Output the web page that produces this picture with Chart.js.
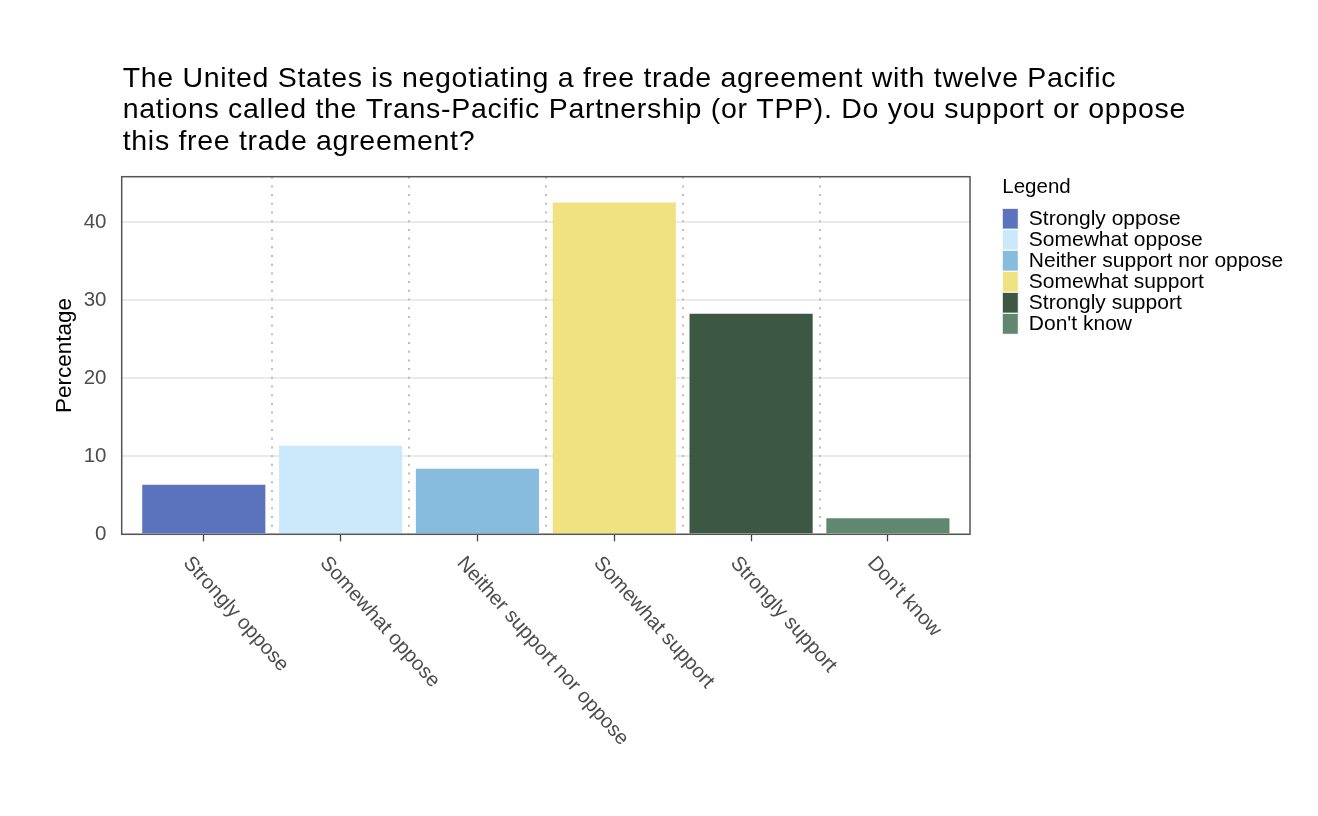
<!DOCTYPE html>
<html>
<head>
<meta charset="utf-8">
<script src="https://cdn.jsdelivr.net/npm/chart.js@4/dist/chart.umd.min.js"></script>
<style>
  html, body { margin: 0; padding: 0; background: #fff; }
  #wrap { width: 1318px; height: 816px; }
</style>
</head>
<body>
<div id="wrap"><canvas id="myChart" width="1318" height="816"></canvas></div>
<script>
const titleLines = [
  'The United States is negotiating a free trade agreement with twelve Pacific',
  'nations called the Trans-Pacific Partnership (or TPP). Do you support or oppose',
  'this free trade agreement?'
]
const categories = [
  'Strongly oppose',
  'Somewhat oppose',
  'Neither support nor oppose',
  'Somewhat support',
  'Strongly support',
  "Don't know"
]
const percentages = [6.34, 11.33, 8.39, 42.5, 28.26, 2.05]
const barColors = ['#5a73bc', '#cce8fb', '#88bcdf', '#f1e281', '#3c5742', '#618770']
const yTicks = [0, 10, 20, 30, 40]

const FONT = '"Liberation Sans", Arial, sans-serif'

// title, dotted separators, panel border, rotated category labels
const decorations = {
  id: 'decorations',
  beforeDatasetsDraw (chart) {
    const { ctx, chartArea } = chart
    const x = chart.scales.x
    ctx.save()
    ctx.strokeStyle = '#bdbdbd'
    ctx.lineWidth = 2
    ctx.setLineDash([2, 6.7])
    for (let i = 1; i < categories.length; i++) {
      const px = Math.round(x.getPixelForValue(i + 0.5))
      ctx.beginPath()
      ctx.moveTo(px, chartArea.top)
      ctx.lineTo(px, chartArea.bottom)
      ctx.stroke()
    }
    ctx.restore()
  },
  afterDatasetsDraw (chart) {
    const { ctx, chartArea } = chart
    const x = chart.scales.x
    ctx.save()
    ctx.strokeStyle = '#555'
    ctx.lineWidth = 1.5
    ctx.strokeRect(chartArea.left, chartArea.top, chartArea.right - chartArea.left, chartArea.bottom - chartArea.top)

    ctx.fillStyle = '#000'
    ctx.font = '28.5px ' + FONT
    ctx.letterSpacing = '0.7px'
    ctx.textAlign = 'left'
    ctx.textBaseline = 'alphabetic'
    titleLines.forEach((line, i) => {
      ctx.fillText(line, chartArea.left + 1, 86.7 + i * 31.65)
    })
    ctx.letterSpacing = '0px'

    ctx.fillStyle = '#4d4d4d'
    ctx.font = '20.3px ' + FONT
    categories.forEach((c, i) => {
      ctx.save()
      ctx.translate(x.getPixelForValue(i + 1), chartArea.bottom)
      ctx.rotate(48 * Math.PI / 180)
      ctx.fillText(c, 7.4, 35.3)
      ctx.restore()
    })
    ctx.restore()
  }
}

const ctx = document.getElementById('myChart')
// eslint-disable-next-line no-unused-vars
const myChart = new Chart(ctx, {
  type: 'bar',
  data: {
    datasets: [{
      data: categories.map((c, i) => ({ x: i + 1, y: percentages[i] })),
      backgroundColor: barColors,
      borderWidth: 0,
      categoryPercentage: 1,
      barPercentage: 0.9
    }]
  },
  options: {
    responsive: false,
    animation: false,
    layout: {
      padding: { top: 176.7, left: 51, right: 24.7, bottom: 274.7 }
    },
    scales: {
      x: {
        type: 'linear',
        min: 0.4,
        max: 6.6,
        offset: false,
        afterBuildTicks: (scale) => {
          scale.ticks = categories.map((c, i) => ({ value: i + 1 }))
        },
        ticks: { display: false },
        grid: {
          offset: false,
          drawOnChartArea: false,
          drawTicks: true,
          tickLength: 7,
          tickColor: '#444',
          tickWidth: 1.3
        },
        border: { display: false }
      },
      y: {
        min: 0,
        max: 45.8,
        afterBuildTicks: (scale) => {
          scale.ticks = yTicks.map(v => ({ value: v }))
        },
        afterFit: (scale) => { scale.width = 70.7 },
        ticks: {
          color: '#4d4d4d',
          padding: 15.2,
          font: { family: FONT, size: 20.5 }
        },
        grid: {
          color: '#ebebeb',
          lineWidth: 2,
          drawTicks: false
        },
        border: { display: false },
        title: {
          display: true,
          text: 'Percentage',
          color: '#000',
          font: { family: FONT, size: 22.5, lineHeight: 1.2 },
          padding: { top: 0, bottom: 0 }
        }
      },
      gap: {
        type: 'linear',
        position: 'right',
        display: true,
        ticks: { display: false },
        grid: { display: false },
        border: { display: false },
        afterFit: (scale) => { scale.width = 32.3 }
      }
    },
    plugins: {
      legend: {
        position: 'right',
        align: 'start',
        fullSize: false,
        maxWidth: 400,
        onClick: null,
        title: {
          display: true,
          text: 'Legend',
          position: 'start',
          color: '#000',
          font: { family: FONT, size: 20.5, lineHeight: 1.2 },
          padding: { top: 0, bottom: 7 }
        },
        labels: {
          boxWidth: 16,
          boxHeight: 21,
          padding: 0,
          color: '#000',
          font: { family: FONT, size: 21 },
          generateLabels: () => categories.map((c, i) => ({
            text: c,
            fillStyle: barColors[i],
            strokeStyle: '#fff',
            lineWidth: 1,
            hidden: false,
            index: i,
            datasetIndex: 0
          }))
        }
      },
      title: { display: false },
      tooltip: { enabled: false }
    }
  },
  plugins: [decorations]
})
</script>
</body>
</html>
